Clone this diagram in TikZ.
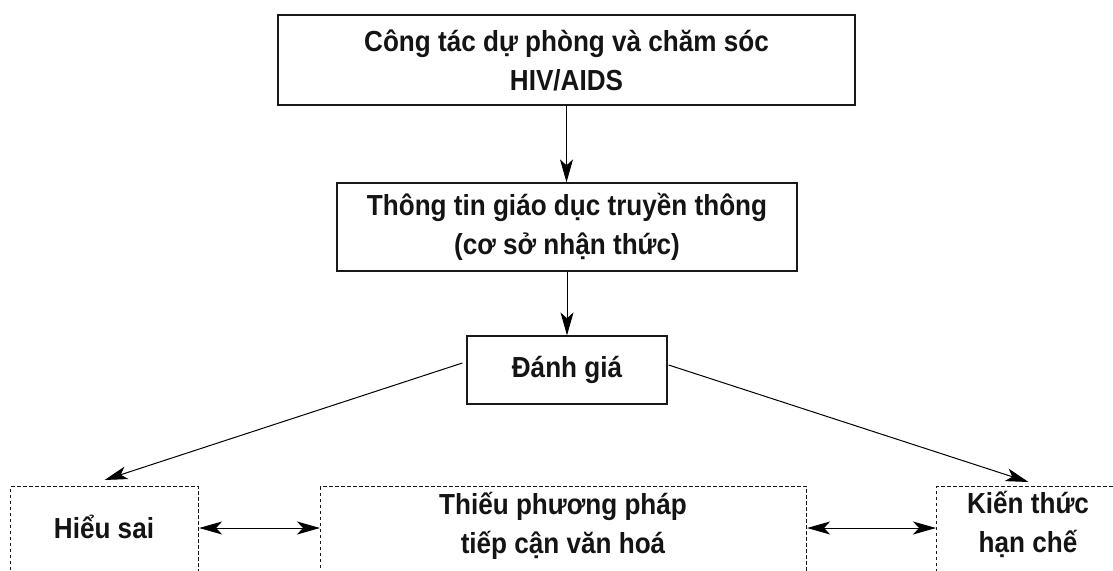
\documentclass[tikz,border=0pt]{standalone}
\usepackage{fontspec}
\setmainfont{Liberation Sans}[FakeStretch=0.9]
\usetikzlibrary{arrows.meta}
\begin{document}
\begin{tikzpicture}[x=1pt,y=-1pt,
  box/.style={draw=black!90, line width=1.25pt, inner sep=0pt},
  dbox/.style={draw=black!90, dash pattern=on 3.8pt off 2.2pt, line width=1.1pt, inner sep=0pt, anchor=north west},
  txt/.style={font=\fontsize{29}{39}\selectfont\bfseries, align=center, inner sep=0pt, text=black!92},
  arr/.style={-{Stealth[length=23pt,width=13pt,inset=6pt]}, line width=1pt},
  darr/.style={{Stealth[length=23pt,width=13pt,inset=6pt]}-{Stealth[length=23pt,width=13pt,inset=6pt]}, line width=1pt}]
\useasboundingbox (0,0) rectangle (1113,570);
\clip (0,0) rectangle (1113,570);

\node[box, txt, minimum width=577pt, minimum height=90pt] (A) at (566.5,60) {Công tác dự phòng và chăm sóc\\HIV/AIDS};
\node[box, txt, minimum width=460pt, minimum height=88pt] (B) at (567,227) {Thông tin giáo dục truyền thông\\(cơ sở nhận thức)};
\node[box, txt, minimum width=200pt, minimum height=68pt] (C) at (567,370) {Đánh giá};

\node[dbox, minimum width=188pt, minimum height=120pt] (D) at (10,486) {};
\node[dbox, minimum width=486pt, minimum height=120pt] (E) at (320,486) {};
\node[dbox, minimum width=184pt, minimum height=120pt] (F) at (936,486) {};

\node[txt] (Dt) at (104,527) {Hiểu sai};
\node[txt] (Et) at (563,526) {Thiếu phương pháp\\tiếp cận văn hoá};
\node[txt] (Ft) at (1028,524) {Kiến thức\\hạn chế};

\draw[arr] (A.south) -- (A.south |- B.north);
\draw[arr] (B.south) -- (B.south |- C.north);
\draw[arr] ([shift={(-4,-7)}]C.west) -- ([yshift=6pt]D.north);
\draw[arr] ([shift={(1,-5)}]C.east) -- ([yshift=4pt]F.north);
\draw[darr] (D.east |- 0,528) -- (E.west |- 0,528);
\draw[darr] (E.east |- 0,528) -- (F.west |- 0,528);
\end{tikzpicture}
\end{document}
